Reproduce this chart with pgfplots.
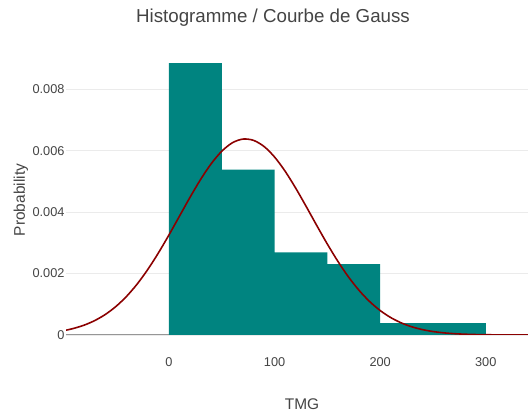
\documentclass[border=0pt]{standalone}
\usepackage{pgfplots}
\pgfplotsset{compat=1.18}
\usepackage{fontspec}
\setmainfont{Liberation Sans}
\definecolor{bar}{RGB}{0,132,128}
\definecolor{curve}{RGB}{139,0,0}
\definecolor{txt}{RGB}{68,68,68}
\definecolor{gridc}{RGB}{235,235,235}
\definecolor{zeroc}{RGB}{150,150,150}
\begin{document}
\begin{tikzpicture}
\useasboundingbox (-66bp,-79bp) rectangle (462bp,335bp);
\begin{axis}[
  at={(0,0)}, anchor=south west,
  scale only axis, width=462bp, height=286bp,
  xmin=-97.5, xmax=340, ymin=0, ymax=0.00931,
  axis line style={draw=none},
  major tick length=0pt,
  scaled y ticks=false, scaled x ticks=false,
  xtick={0,100,200,300},
  xticklabels={0,100,200,300},
  ytick={0,0.002,0.004,0.006,0.008},
  yticklabels={0,0.002,0.004,0.006,0.008},
  ymajorgrids, grid style={gridc, line width=0.8pt},
  tick label style={font=\fontsize{12.8}{15}\selectfont, text=txt},
  xticklabel style={yshift=-19bp},
  yticklabel style={xshift=2bp},
  clip=true,
]
\draw[zeroc, line width=1.2pt] (axis cs:-97.5,0) -- (axis cs:340,0);
\addplot[ybar interval, fill=bar, draw=none] coordinates {
 (0,0.008846) (50,0.005385) (100,0.002692) (150,0.002308) (200,0.000385) (250,0.000385) (300,0.000385)};
\addplot[curve, line width=1.6pt, smooth] coordinates {
(-97.5,0.0001560) (-90,0.0002173) (-80,0.0003253) (-70,0.0004746) (-60,0.0006746) (-50,0.0009352)
(-40,0.0012632) (-30,0.0016634) (-20,0.0021349) (-10,0.0026710) (0,0.0032573) (10,0.0038715)
(20,0.0044854) (30,0.0050654) (40,0.0055758) (50,0.0059825) (60,0.0062566) (70,0.0063779)
(80,0.0063372) (90,0.0061376) (100,0.0057941) (110,0.0053315) (120,0.0047819) (130,0.0041804)
(140,0.0035625) (150,0.0029590) (160,0.0023956) (170,0.0018905) (180,0.0014540) (190,0.0010903)
(200,0.0007968) (210,0.0005676) (220,0.0003941) (230,0.0002667) (240,0.0001760) (250,0.0001132)
(260,0.0000709) (270,0.0000433) (280,0.0000258) (290,0.0000150) (300,0.0000085) (320,0.0000025) (340,0.0000006)};
\end{axis}
\node[text=txt, font=\fontsize{18.8}{22}\selectfont] at (207bp,317bp) {Histogramme / Courbe de Gauss};
\node[text=txt, font=\fontsize{15.5}{18}\selectfont] at (236bp,-69bp) {TMG};
\node[text=txt, font=\fontsize{15.5}{18}\selectfont, rotate=90] at (-45bp,135bp) {Probability};
\end{tikzpicture}
\end{document}
